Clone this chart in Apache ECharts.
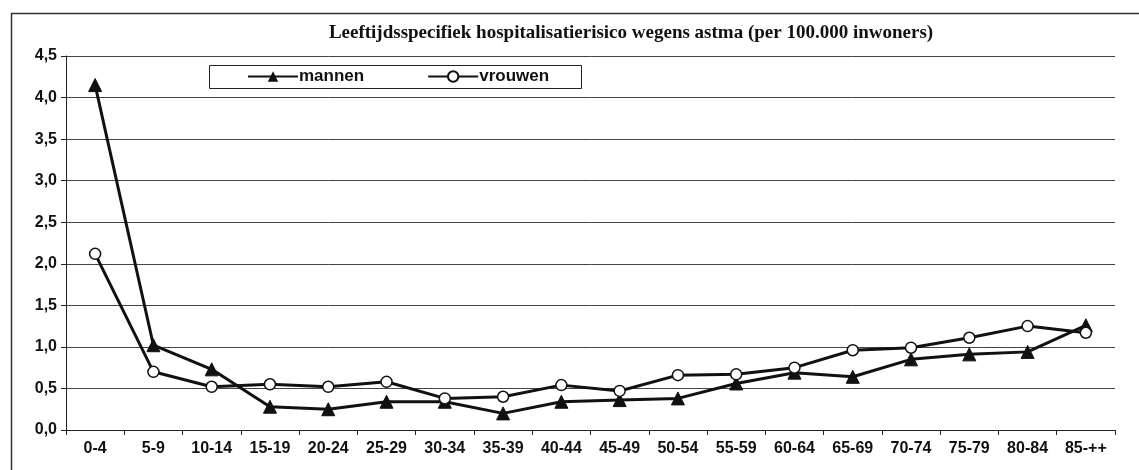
<!DOCTYPE html>
<html>
<head>
<meta charset="utf-8">
<script src="https://cdn.jsdelivr.net/npm/echarts@6/dist/echarts.min.js"></script>
<style>
  html, body { margin: 0; padding: 0; background: #fff; }
  #chart { width: 1139px; height: 470px; }
</style>
</head>
<body>
<div id="chart"></div>
<script>
// leeftijdsgroepen
var categories = ['0-4', '5-9', '10-14', '15-19', '20-24', '25-29', '30-34', '35-39', '40-44',
                  '45-49', '50-54', '55-59', '60-64', '65-69', '70-74', '75-79', '80-84', '85-++'];
var mannen  = [4.15, 1.02, 0.73, 0.28, 0.25, 0.34, 0.34, 0.20, 0.34, 0.36, 0.38, 0.56, 0.69, 0.64, 0.85, 0.91, 0.94, 1.26];
var vrouwen = [2.12, 0.70, 0.52, 0.55, 0.52, 0.58, 0.38, 0.40, 0.54, 0.47, 0.66, 0.67, 0.75, 0.96, 0.99, 1.11, 1.25, 1.17];

var myChart = echarts.init(document.getElementById('chart'));

var labelFont = { color: '#111', fontFamily: 'Liberation Sans, Arial, sans-serif', fontWeight: 'bold', fontSize: 16 };

var option = {
    backgroundColor: '#fff',
    animation: false,
    title: {
        text: 'Leeftijdsspecifiek hospitalisatierisico wegens astma (per 100.000 inwoners)',
        left: 626,
        textAlign: 'center',
        top: 19,
        textStyle: { fontFamily: 'Liberation Serif, Times New Roman, serif', fontWeight: 'bold', fontSize: 19, color: '#111' }
    },
    legend: {
        data: ['mannen', 'vrouwen'],
        left: 247,
        top: 68,
        padding: 0,
        itemGap: 63,
        itemWidth: 50,
        itemHeight: 13,
        textStyle: { fontFamily: 'Liberation Sans, Arial, sans-serif', fontWeight: 'bold', fontSize: 17, color: '#111', padding: [0, 0, 0, -4] }
    },
    grid: { left: 66, right: 24, top: 56, bottom: 40 },
    xAxis: {
        type: 'category',
        data: categories,
        boundaryGap: true,
        axisLine: { lineStyle: { color: '#222', width: 1 } },
        axisTick: { show: true, inside: false, length: 5, lineStyle: { color: '#222' } },
        axisLabel: Object.assign({ margin: 11, interval: 0 }, labelFont)
    },
    yAxis: {
        type: 'value',
        min: 0,
        max: 4.5,
        interval: 0.5,
        axisLine: { show: true, lineStyle: { color: '#222', width: 1 } },
        axisTick: { show: true, length: 5, lineStyle: { color: '#222' } },
        splitLine: { lineStyle: { color: '#444', width: 1 } },
        axisLabel: Object.assign({
            margin: 9,
            formatter: function (v) { return v.toFixed(1).replace('.', ','); }
        }, labelFont)
    },
    series: [
        {
            name: 'mannen',
            type: 'line',
            data: mannen,
            symbol: 'triangle',
            symbolSize: 13,
            itemStyle: { color: '#111', borderColor: '#111' },
            lineStyle: { color: '#111', width: 3 }
        },
        {
            name: 'vrouwen',
            type: 'line',
            data: vrouwen,
            symbol: 'circle',
            symbolSize: 11,
            itemStyle: { color: '#fff', borderColor: '#111', borderWidth: 1.5 },
            lineStyle: { color: '#111', width: 3 }
        }
    ],
    graphic: [
        {
            type: 'rect',
            shape: { x: 11.5, y: 13.5, width: 1200, height: 500 },
            style: { fill: null, stroke: '#333', lineWidth: 1.5 },
            silent: true
        },
        {
            // legendakader
            type: 'rect',
            shape: { x: 209.5, y: 65.5, width: 372, height: 23 },
            style: { fill: null, stroke: '#222', lineWidth: 1 },
            silent: true
        }
    ]
};

myChart.setOption(option);
</script>
</body>
</html>
